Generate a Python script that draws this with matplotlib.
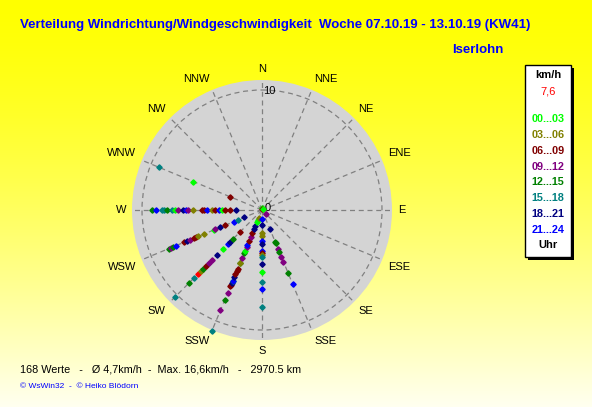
import numpy as np
import matplotlib
matplotlib.use("Agg")
import matplotlib.pyplot as plt
from matplotlib.patches import Rectangle

plt.rcParams['font.family'] = ['Liberation Sans', 'DejaVu Sans']

# ---------------- data ----------------
compass = ["N", "NNE", "NE", "ENE", "E", "ESE", "SE", "SSE",
           "S", "SSW", "SW", "WSW", "W", "WNW", "NW", "NNW"]
bin_labels = ["00...03", "03...06", "06...09", "09...12",
              "12...15", "15...18", "18...21", "21...24"]
bin_colors = ["#00ff00", "#808000", "#800000", "#800080",
              "#008000", "#008080", "#000080", "#0000ff", "#ff0000"]

# direction (deg), speed (km/h), hour bin (8 = highlighted value)
w_speed = [9.19, 8.8, 8.35, 8.17, 7.89, 7.47, 7.27, 6.97, 6.56, 6.36, 6.17, 5.72,
           4.97, 4.83, 4.61, 4.14, 3.92, 3.58, 3.36, 3.08, 2.69, 2.19]
w_bin = [4, 7, 5, 5, 4, 5, 0, 3, 6, 7, 3, 1, 2, 2, 7, 1, 2, 7, 0, 2, 2, 6]

wnw_speed = [9.3, 6.2, 2.9]
wnw_bin = [5, 0, 2]

wsw_speed = [8.43, 8.2, 8.07, 7.79, 7.0, 6.73, 6.48, 6.09, 5.97, 5.75, 5.19,
             4.3, 4.23, 3.8, 3.36, 2.54, 2.2, 1.63]
wsw_bin = [4, 3, 4, 7, 2, 6, 3, 2, 2, 1, 1, 0, 3, 6, 2, 7, 5, 6]

sw_speed = [10.3, 8.65, 8.06, 7.6, 7.15, 6.9, 6.6, 6.2, 5.9, 5.25, 4.6, 4.0,
            3.76, 3.46, 2.6]
sw_bin = [5, 4, 5, 8, 1, 4, 2, 3, 3, 6, 0, 7, 6, 4, 2]

ssw_speed = [10.9, 9.05, 8.1, 7.5, 6.9, 6.75, 6.55, 6.4, 6.36, 6.05, 5.8, 5.5,
             5.33, 4.8, 4.75, 4.3, 3.85, 3.7, 3.37, 3.17, 2.8, 2.47, 2.1, 1.75,
             1.45, 1.1, 0.9, 0.7]
ssw_bin = [5, 3, 4, 3, 2, 2, 6, 0, 7, 6, 2, 2, 2, 4, 1, 3, 4, 0, 3, 7, 2, 3, 2,
           6, 6, 0, 0, 1]

s_speed = [0.78, 1.25, 1.94, 2.14, 2.56, 2.86, 3.39, 3.6, 3.75, 3.94, 4.53,
           5.14, 5.97, 6.61, 8.06]
s_bin = [7, 6, 1, 1, 7, 6, 7, 2, 1, 5, 6, 0, 5, 7, 5]

sse_speed = [1.7, 2.9, 3.0, 3.5, 3.76, 4.2, 4.66, 5.7, 6.65]
sse_bin = [6, 4, 4, 3, 4, 3, 3, 4, 7]

calm_dir = [0, 0, 45, 135]
calm_speed = [0.15, 0.1, 0.15, 0.43]
calm_bin = [0, 2, 0, 3]

groups = [(270, w_speed, w_bin), (292.5, wnw_speed, wnw_bin),
          (247.5, wsw_speed, wsw_bin), (225, sw_speed, sw_bin),
          (202.5, ssw_speed, ssw_bin), (180, s_speed, s_bin),
          (157.5, sse_speed, sse_bin)]

# ---------------- figure ----------------
W, H = 592, 407
fig = plt.figure(figsize=(W / 100, H / 100), dpi=100)

# background gradient
bg = fig.add_axes([0, 0, 1, 1], zorder=-10)
t = np.linspace(0, 1, 256)[:, None]
blue = np.clip(240 * t ** 1.4, 0, 255) / 255.0
img = np.dstack([np.ones_like(t), np.ones_like(t), blue])
img = np.repeat(img, 2, axis=1)
bg.imshow(img, aspect='auto', extent=[0, 1, 0, 1], origin='upper')
bg.set_axis_off()

# polar axes: centre (262,210), radius 130 px
cx, cy, R = 262, 210, 130
PX_PER_UNIT = 12.0
ax = fig.add_axes([(cx - R) / W, (H - cy - R) / H, 2 * R / W, 2 * R / H],
                  projection='polar')
ax.set_theta_zero_location('N')
ax.set_theta_direction(-1)
ax.set_facecolor('#d4d4d4')
ax.set_ylim(0, R / PX_PER_UNIT)
ax.spines['polar'].set_visible(False)
dirs = np.arange(0, 360, 22.5)
ax.set_thetagrids(dirs, labels=[''] * len(dirs))
ax.set_rgrids([10], labels=[''])
ax.grid(True, color='#808080', linestyle=(0, (4, 3)), linewidth=0.9)

# compass labels anchored just outside the circle
for d, lab in zip(dirs, compass):
    s, c = np.sin(np.deg2rad(d)), np.cos(np.deg2rad(d))
    ha = 'left' if s > 0.01 else ('right' if s < -0.01 else 'center')
    va = 'bottom' if c > 0.01 else ('top' if c < -0.01 else 'center')
    ax.text(np.deg2rad(d), 136 / PX_PER_UNIT, lab, fontsize=8,
            ha=ha, va=va, clip_on=False)

for d, sp, bn in groups:
    for r, b in zip(sp, bn):
        ax.plot(np.deg2rad(d), r, marker='D', markersize=2.7,
                color=bin_colors[b], linestyle='none', zorder=5,
                clip_on=False)
for d, r, b in zip(calm_dir, calm_speed, calm_bin):
    ax.plot(np.deg2rad(d), r, marker='D', markersize=2.7,
            color=bin_colors[b], linestyle='none', zorder=5, clip_on=False)

ax.text(np.deg2rad(3.4), 9.9, "10", fontsize=8, ha='center', va='center')
ax.text(np.deg2rad(75), 0.5, "0", fontsize=8, ha='center', va='center')


def fx(x):
    return x / W


def fy(y):
    return 1 - y / H


# titles
fig.text(fx(20), fy(25), "Verteilung Windrichtung/Windgeschwindigkeit  Woche 07.10.19 - 13.10.19 (KW41)",
         color='#0000ff', fontsize=9.5, fontweight='bold', ha='left', va='center')
fig.text(fx(452), fy(50), "Iserlohn", color='#0000ff', fontsize=9.5,
         fontweight='bold', ha='left', va='center')

# legend box
fig.patches.append(Rectangle((fx(528), fy(260)), 46 / W, 192 / H,
                             transform=fig.transFigure, facecolor='black',
                             edgecolor='none', zorder=1))
fig.patches.append(Rectangle((fx(525), fy(257)), 46 / W, 192 / H,
                             transform=fig.transFigure, facecolor='white',
                             edgecolor='black', linewidth=1, zorder=2))
lx = fx(548)
fig.text(lx, fy(75), "km/h", fontsize=8, fontweight='bold', ha='center',
         va='center', zorder=3)
fig.text(lx, fy(91), "7,6", fontsize=8, color='#ff0000', ha='center',
         va='center', zorder=3)
ys = np.linspace(119, 230, 8)
for lab, col, yy in zip(bin_labels, bin_colors[:8], ys):
    fig.text(lx, fy(yy), lab, fontsize=7.8, fontweight='bold', color=col,
             ha='center', va='center', zorder=3)
fig.text(lx, fy(245), "Uhr", fontsize=8, fontweight='bold', ha='center',
         va='center', zorder=3)

# footer
fig.text(fx(20), fy(369), "168 Werte   -   \u00d8 4,7km/h  -  Max. 16,6km/h   -   2970.5 km",
         fontsize=7.8, ha='left', va='center')
fig.text(fx(20), fy(386), "\u00a9 WsWin32  -  \u00a9 Heiko Bl\u00f6dorn",
         fontsize=6, color='#0000ff', ha='left', va='center')

fig.savefig("out.png", dpi=100)
